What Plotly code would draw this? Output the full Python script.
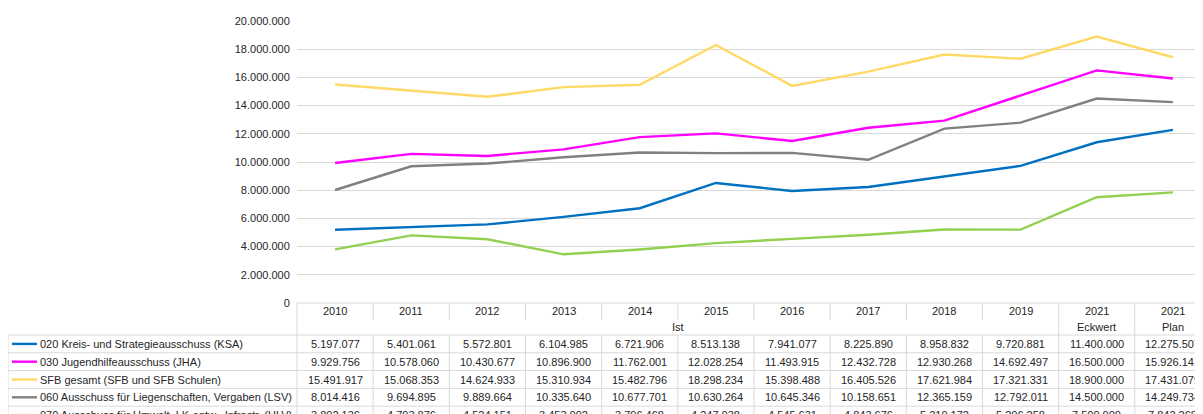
import plotly.graph_objects as go

years = ["2010", "2011", "2012", "2013", "2014", "2015", "2016", "2017", "2018", "2019", "2021", "2021"]
sub_labels = ["Ist", "Eckwert", "Plan"]

names = [
    "020 Kreis- und Strategieausschuss (KSA)",
    "030 Jugendhilfeausschuss (JHA)",
    "SFB gesamt (SFB und SFB Schulen)",
    "060 Ausschuss für Liegenschaften, Vergaben (LSV)",
    "070 Ausschuss für Umwelt, LK-entw., Infrastr. (ULV)",
]

ksa = [5197077, 5401061, 5572801, 6104985, 6721906, 8513138, 7941077, 8225890, 8958832, 9720881, 11400000, 12275507]
jha = [9929756, 10578060, 10430677, 10896900, 11762001, 12028254, 11493915, 12432728, 12930268, 14692497, 16500000, 15926141]
sfb = [15491917, 15068353, 14624933, 15310934, 15482796, 18298234, 15398488, 16405526, 17621984, 17321331, 18900000, 17431079]
lsv = [8014416, 9694895, 9889664, 10335640, 10677701, 10630264, 10645346, 10158651, 12365159, 12792011, 14500000, 14249734]
ulv = [3802136, 4793876, 4524151, 3453092, 3796468, 4247038, 4545631, 4843676, 5210172, 5206258, 7500000, 7842268]

series = [ksa, jha, sfb, lsv, ulv]
colors = ["#0070C0", "#FF00FF", "#FFD966", "#808080", "#92D050"]

# ---- layout geometry ----
# The page body has an 8px margin, so the figure starts at (8, 8) in the window.
OFF = 8
W, H = 1203 - OFF, 414 - OFF
L = 297 - OFF
T = 21 - OFF
B = H - (303 - OFF)
R = 0
PW = W - L - R
PH = H - T - B
XMIN, XMAX = -0.5, 11.5 - 8 / 76.2
GRID = "#d9d9d9"
TXT = "#262626"
FONT = "Liberation Sans, Arial, sans-serif"


def px2p(px):
    # window pixel x -> paper x
    return (px - OFF - L) / PW


def py2p(py):
    # window pixel y -> paper y
    return (T + PH - (py - OFF)) / PH


def col_edge(i):
    return (i - 0.5 - XMIN) / (XMAX - XMIN)


xs = list(range(len(years)))
fig = go.Figure()
for s, c, n in zip(series, colors, names):
    fig.add_trace(go.Scatter(x=xs, y=s, mode="lines", name=n,
                             line=dict(color=c, width=2.4), hoverinfo="skip"))

shapes = []
ann = []

y_top = 303
y_year_bot = 320
y_hdr_bot = 335
row_h = 17.8
n_rows = len(series)
y_bottom = y_hdr_bot + row_h * n_rows
leg_left = 8

# horizontal lines
shapes.append(dict(type="line", xref="paper", yref="paper", x0=col_edge(0), x1=1,
                   y0=py2p(y_top), y1=py2p(y_top), line=dict(color=GRID, width=1)))
for r in range(n_rows + 1):
    yy = y_hdr_bot + r * row_h
    shapes.append(dict(type="line", xref="paper", yref="paper", x0=px2p(leg_left), x1=1,
                       y0=py2p(yy), y1=py2p(yy), line=dict(color=GRID, width=1)))
shapes.append(dict(type="line", xref="paper", yref="paper", x0=px2p(leg_left), x1=px2p(leg_left),
                   y0=py2p(y_hdr_bot), y1=py2p(y_bottom + 5), line=dict(color=GRID, width=1)))
for i in range(len(years) + 1):
    xe = col_edge(i)
    if xe > 1.0001:
        continue
    if i in (0, 10, 11, 12):
        ytop = y_top
    else:
        shapes.append(dict(type="line", xref="paper", yref="paper", x0=xe, x1=xe,
                           y0=py2p(y_top), y1=py2p(y_year_bot), line=dict(color=GRID, width=1)))
        ytop = y_hdr_bot
    shapes.append(dict(type="line", xref="paper", yref="paper", x0=xe, x1=xe,
                       y0=py2p(ytop), y1=py2p(y_bottom + 5), line=dict(color=GRID, width=1)))

for i, yr in enumerate(years):
    ann.append(dict(x=i, xref="x", y=py2p(311), yref="paper", text=yr, showarrow=False,
                    font=dict(size=11, color=TXT, family=FONT), xanchor="center", yanchor="middle"))
ann.append(dict(x=4.5, xref="x", y=py2p(327), yref="paper", text=sub_labels[0], showarrow=False,
                font=dict(size=11, color=TXT, family=FONT), xanchor="center", yanchor="middle"))
ann.append(dict(x=10, xref="x", y=py2p(327), yref="paper", text=sub_labels[1], showarrow=False,
                font=dict(size=11, color=TXT, family=FONT), xanchor="center", yanchor="middle"))
ann.append(dict(x=11, xref="x", y=py2p(327), yref="paper", text=sub_labels[2], showarrow=False,
                font=dict(size=11, color=TXT, family=FONT), xanchor="center", yanchor="middle"))


def fmt(v):
    return f"{v:,}".replace(",", ".")


for r, (s, c, n) in enumerate(zip(series, colors, names)):
    yc = y_hdr_bot + row_h * (r + 0.5)
    for i, v in enumerate(s):
        ann.append(dict(x=i, xref="x", y=py2p(yc), yref="paper", text=fmt(v), showarrow=False,
                        font=dict(size=11, color=TXT, family=FONT), xanchor="center", yanchor="middle"))
    shapes.append(dict(type="line", xref="paper", yref="paper", x0=px2p(12), x1=px2p(37),
                       y0=py2p(yc), y1=py2p(yc), line=dict(color=c, width=2.4)))
    ann.append(dict(x=px2p(38), xref="paper", y=py2p(yc), yref="paper", text=n, showarrow=False,
                    font=dict(size=11, color=TXT, family=FONT), xanchor="left", yanchor="middle"))

fig.update_layout(
    width=W, height=H,
    margin=dict(l=L, r=R, t=T, b=B, pad=0),
    paper_bgcolor="white", plot_bgcolor="white",
    separators=",.",
    showlegend=False,
    shapes=shapes,
    annotations=ann,
    font=dict(family=FONT, size=11, color=TXT),
    xaxis=dict(range=[XMIN, XMAX], showticklabels=False, showgrid=False, zeroline=False,
               showline=False, fixedrange=True),
    yaxis=dict(range=[0, 20000000], dtick=2000000, tickformat=",d", gridcolor=GRID, gridwidth=1,
               zeroline=False, showline=False, ticks="outside", ticklen=4, tickcolor="rgba(0,0,0,0)",
               tickfont=dict(size=11, color=TXT, family=FONT), fixedrange=True),
)

fig.write_html("out.html")
